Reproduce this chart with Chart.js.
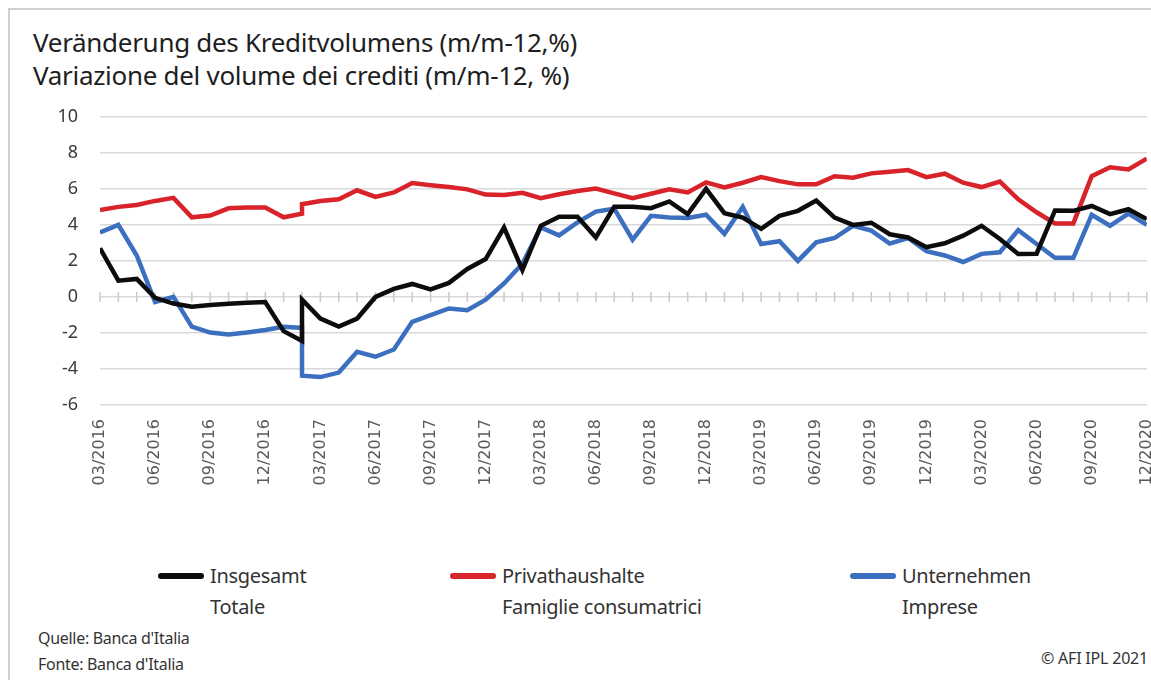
<!DOCTYPE html>
<html>
<head>
<meta charset="utf-8">
<script src="https://cdn.jsdelivr.net/npm/chart.js@4.4.0/dist/chart.umd.min.js"></script>
<style>
  html, body { margin: 0; padding: 0; background: #fff; overflow: hidden; }
  body { width: 1151px; height: 680px; position: relative; font-family: 'Noto Sans', sans-serif; }
  #frame { position: absolute; left: 8px; top: 8px; width: 1180px; height: 700px; border: 2px solid #cfcfcf; box-sizing: border-box; }
  #title { position: absolute; left: 33px; top: 26px; font-size: 26px; line-height: 33px; color: #1e1e1e; letter-spacing: -0.3px; }
  #chart-wrap { position: absolute; left: 0; top: 84px; width: 1172px; height: 426px; }
  .leg { position: absolute; top: 560px; font-size: 20px; line-height: 31px; color: #333; letter-spacing: -0.3px; }
  .leg .swatch { position: absolute; left: 0; top: 13px; width: 46px; height: 6px; border-radius: 3px; }
  .leg .txt { position: absolute; left: 52px; top: 0; white-space: nowrap; }
  #source { position: absolute; left: 38px; top: 625px; font-size: 16px; line-height: 26px; color: #333; letter-spacing: -0.3px; }
  #copy { position: absolute; right: 3px; top: 647px; font-size: 16px; color: #333; letter-spacing: -0.2px; }
</style>
</head>
<body>
<div id="frame"></div>
<div id="title">Veränderung des Kreditvolumens (m/m-12,%)<br>Variazione del volume dei crediti (m/m-12, %)</div>
<div id="chart-wrap"><canvas id="chart"></canvas></div>
<div id="legend"></div>
<div id="source">Quelle: Banca d'Italia<br>Fonte: Banca d'Italia</div>
<div id="copy">© AFI IPL 2021</div>
<script>
// ==== DATA ====
// monthly, 02/2017 appears twice (series break)
var months = [
  '03/2016','04/2016','05/2016','06/2016','07/2016','08/2016','09/2016','10/2016','11/2016','12/2016',
  '01/2017','02/2017','02/2017','03/2017','04/2017','05/2017','06/2017','07/2017','08/2017','09/2017','10/2017','11/2017','12/2017',
  '01/2018','02/2018','03/2018','04/2018','05/2018','06/2018','07/2018','08/2018','09/2018','10/2018','11/2018','12/2018',
  '01/2019','02/2019','03/2019','04/2019','05/2019','06/2019','07/2019','08/2019','09/2019','10/2019','11/2019','12/2019',
  '01/2020','02/2020','03/2020','04/2020','05/2020','06/2020','07/2020','08/2020','09/2020','10/2020','11/2020','12/2020'
];
var tickLabels = [
  '03/2016','06/2016','09/2016','12/2016','03/2017','06/2017','09/2017','12/2017','03/2018','06/2018',
  '09/2018','12/2018','03/2019','06/2019','09/2019','12/2019','03/2020','06/2020','09/2020','12/2020'
];
var insgesamt = [
  2.7, 0.9, 1.0, -0.05, -0.37, -0.55, -0.45, -0.38, -0.32, -0.28,
  -1.9, -2.45, -0.15, -1.2, -1.65, -1.2, 0.0, 0.45, 0.72, 0.42, 0.78, 1.55, 2.1,
  3.85, 1.5, 3.95, 4.45, 4.45, 3.3, 5.0, 5.0, 4.93, 5.3, 4.6, 6.0,
  4.65, 4.4, 3.78, 4.5, 4.78, 5.35, 4.4, 4.0, 4.12, 3.48, 3.3, 2.76,
  2.98, 3.4, 3.95, 3.22, 2.39, 2.4, 4.8, 4.78, 5.05, 4.6, 4.87, 4.32
];
var privathaushalte = [
  4.82, 5.0, 5.1, 5.33, 5.5, 4.42, 4.52, 4.92, 4.96, 4.96,
  4.42, 4.62, 5.15, 5.33, 5.42, 5.92, 5.55, 5.8, 6.32, 6.2, 6.1, 5.97, 5.68,
  5.66, 5.78, 5.48, 5.7, 5.88, 6.02, 5.75, 5.48, 5.73, 5.97, 5.8, 6.36,
  6.08, 6.34, 6.65, 6.43, 6.25, 6.25, 6.7, 6.62, 6.86, 6.95, 7.04, 6.65,
  6.84, 6.34, 6.1, 6.4, 5.42, 4.7, 4.08, 4.08, 6.7, 7.2, 7.08, 7.68
];
var unternehmen = [
  3.58, 4.0, 2.3, -0.28, 0.0, -1.65, -1.98, -2.08, -1.98, -1.84,
  -1.66, -1.72, -4.37, -4.45, -4.2, -3.05, -3.32, -2.92, -1.38, -1.01, -0.64, -0.74, -0.15,
  0.75, 1.84, 3.86, 3.42, 4.14, 4.74, 4.9, 3.18, 4.5, 4.41, 4.38, 4.56,
  3.5, 5.0, 2.94, 3.09, 2.0, 3.03, 3.27, 3.95, 3.68, 2.96, 3.27, 2.54,
  2.30, 1.94, 2.39, 2.48, 3.71, 2.94, 2.17, 2.17, 4.56, 3.95, 4.63, 4.0
];
var seriesDe = ['Insgesamt', 'Privathaushalte', 'Unternehmen'];
var seriesIt = ['Totale', 'Famiglie consumatrici', 'Imprese'];
var seriesColors = ['#0c0c0c', '#d8232a', '#3c6fbf'];
var yTicks = { min: -6, max: 10, step: 2 };

// ==== HELPERS ====
// month offset from 03/2016, so the repeated month lands on the same x
function monthIndex(lbl) {
  var p = lbl.split('/');
  return (parseInt(p[1], 10) - 2016) * 12 + parseInt(p[0], 10) - 3;
}
function points(values) {
  return values.map(function (v, i) { return { x: monthIndex(months[i]), y: v }; });
}

var lastIdx = monthIndex(months[months.length - 1]);

// small tick marks on the zero line, one per month
var zeroTicks = {
  id: 'zeroTicks',
  beforeDatasetsDraw: function (chart) {
    var xs = chart.scales.x, ys = chart.scales.y, ctx = chart.ctx;
    var y0 = ys.getPixelForValue(0);
    ctx.save();
    ctx.strokeStyle = '#c9c9c9';
    ctx.lineWidth = 1.5;
    for (var m = 0; m <= lastIdx; m++) {
      var x = xs.getPixelForValue(m);
      ctx.beginPath(); ctx.moveTo(x, y0 - 5); ctx.lineTo(x, y0 + 5); ctx.stroke();
    }
    ctx.restore();
  }
};

// ==== CHART ====
var allSeries = [insgesamt, privathaushalte, unternehmen];
var datasets = allSeries.map(function (vals, k) {
  return {
    label: seriesDe[k] + ' / ' + seriesIt[k],
    data: points(vals),
    borderColor: seriesColors[k],
    backgroundColor: seriesColors[k],
    borderWidth: 4.5,
    pointRadius: 0,
    tension: 0,
    borderJoinStyle: 'miter',
    fill: false
  };
});

new Chart(document.getElementById('chart').getContext('2d'), {
  type: 'line',
  data: { datasets: datasets },
  plugins: [zeroTicks],
  options: {
    responsive: true,
    maintainAspectRatio: false,
    animation: false,
    layout: { padding: { top: 0, left: 0, right: 0, bottom: 0 } },
    plugins: { legend: { display: false }, tooltip: { enabled: false } },
    scales: {
      x: {
        type: 'linear',
        min: 0, max: lastIdx,
        grid: { display: false },
        border: { display: false },
        afterFit: function (s) { s.height = 105; },
        ticks: {
          stepSize: 3,
          autoSkip: false,
          minRotation: 90, maxRotation: 90,
          padding: 6,
          color: '#595959',
          font: { family: 'DejaVu Sans', size: 16 },
          callback: function (v) { return tickLabels[v / 3]; }
        }
      },
      y: {
        min: yTicks.min, max: yTicks.max,
        grid: { color: '#d9d9d9', lineWidth: 1.5, drawTicks: false },
        border: { display: false },
        afterFit: function (s) { s.width = 100; },
        ticks: {
          stepSize: yTicks.step,
          padding: 22,
          color: '#3a3a3a',
          font: { family: 'Noto Sans', size: 18 }
        }
      }
    }
  }
});

// ==== LEGEND ====
var legLeft = [158, 450, 850];
var legend = document.getElementById('legend');
seriesDe.forEach(function (name, k) {
  var item = document.createElement('div');
  item.className = 'leg';
  item.style.left = legLeft[k] + 'px';
  item.innerHTML = '<span class="swatch" style="background:' + seriesColors[k] + '"></span>' +
    '<span class="txt">' + name + '<br>' + seriesIt[k] + '</span>';
  legend.appendChild(item);
});
</script>
</body>
</html>
